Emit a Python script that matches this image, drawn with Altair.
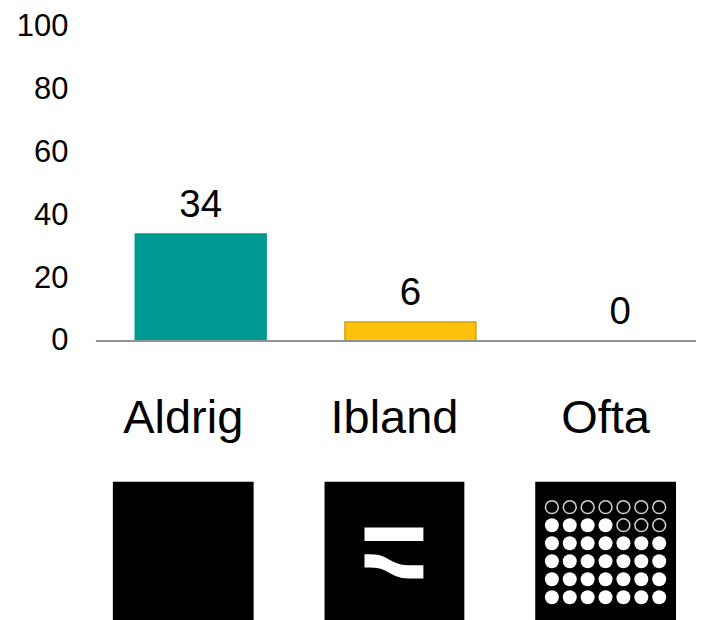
import altair as alt
import pandas as pd

FONT = "Liberation Sans"

# Bar chart values
categories = ["Aldrig", "Ibland", "Ofta"]
values = [34, 6, 0]
bar_fills = ["#009A93", "#FFC10B", "#FFFFFF"]
bar_strokes = ["#009A93", "#CFA00E", "#FFFFFF"]
y_ticks = [0, 20, 40, 60, 80, 100]

# Dot-grid icon: 7 columns, 6 rows; open circles at these cells
dot_cols = [1, 2, 3, 4, 5, 6, 7]
dot_rows = [1, 2, 3, 4, 5, 6]
open_cells = [(c, 1) for c in dot_cols] + [(5, 2), (6, 2), (7, 2)]

# Wave icon, in the icon's own 140 x 138 units
flat_x = [40, 99]
flat_top = [45.5]
flat_bottom = [58.8]
wave_x = [40, 50, 60, 70, 80, 90, 99]
wave_top = [72, 72.3, 74.7, 80, 82.7, 83, 83]
wave_bottom = [85.3, 85.6, 88, 93.3, 96, 96.3, 96.3]

bars = pd.DataFrame({"cat": categories, "v": values, "fill": bar_fills, "line": bar_strokes})

x_bar = alt.X(
    "cat:N", axis=None, sort=categories,
    scale=alt.Scale(domain=categories, range=[0, 630], paddingInner=0.376, paddingOuter=0.188),
)
y_bar = alt.Y(
    "v:Q",
    scale=alt.Scale(domain=[0, 100], nice=False),
    axis=alt.Axis(
        values=y_ticks, title=None, grid=False, domain=False, ticks=False,
        labelFont=FONT, labelFontSize=31, labelColor="#000000", labelPadding=28,
    ),
)

bar_marks = alt.Chart(bars).mark_bar(strokeWidth=1.5).encode(
    x=x_bar, y=y_bar,
    fill=alt.Fill("fill:N", scale=None),
    stroke=alt.Stroke("line:N", scale=None),
)
bar_labels = alt.Chart(bars).mark_text(
    font=FONT, fontSize=38.5, color="#000000", baseline="alphabetic", dy=-17
).encode(x=x_bar, y=y_bar, text="v:Q")
baseline = alt.Chart(bars.head(1)).mark_rule(color="#8C9296", strokeWidth=2).encode(
    x=alt.value(0), x2=alt.value(601), y=alt.value(315)
)
top = alt.layer(bar_marks, baseline, bar_labels).properties(width=601, height=315)


def icon_title(text):
    return alt.Title(text, font=FONT, fontSize=47, fontWeight="normal", color="#000000",
                     anchor="middle", offset=39)


px = alt.Scale(domain=[0, 140], nice=False)
py = alt.Scale(domain=[138, 0], nice=False)
black = alt.ViewBackground(fill="#000000", stroke=None)

# Icon 1: plain black
empty_icon = alt.Chart(pd.DataFrame({"x": [0], "x2": [140], "y": [0], "y2": [138]})).mark_rect(color="#000000").encode(
    x=alt.X("x:Q", scale=px, axis=None), x2="x2:Q",
    y=alt.Y("y:Q", scale=py, axis=None), y2="y2:Q",
).properties(width=141, height=139, title=icon_title(categories[0]))

# Icon 2: flat bar + wave
flat_df = pd.DataFrame({"x": [flat_x[0]], "x2": [flat_x[1]], "y": flat_top, "y2": flat_bottom})
flat = alt.Chart(flat_df).mark_rect(color="#FFFFFF").encode(
    x=alt.X("x:Q", scale=px, axis=None), x2="x2:Q",
    y=alt.Y("y:Q", scale=py, axis=None), y2="y2:Q",
)
wave_df = pd.DataFrame({"x": wave_x, "y": wave_top, "y2": wave_bottom})
wave = alt.Chart(wave_df).mark_area(color="#FFFFFF", interpolate="monotone").encode(
    x=alt.X("x:Q", scale=px, axis=None),
    y=alt.Y("y:Q", scale=py, axis=None), y2="y2:Q",
)
wave_icon = alt.layer(flat, wave).properties(
    width=140, height=139, title=icon_title(categories[1]), view=black
)

# Icon 3: dot grid
dots = pd.DataFrame([
    {"c": c, "r": r, "open": (c, r) in open_cells} for r in dot_rows for c in dot_cols
])
gx = alt.Scale(domain=[0.07, 7.94], nice=False)
gy = alt.Scale(domain=[7.29, -0.41], nice=False)
filled = alt.Chart(dots[~dots["open"]]).mark_circle(color="#FFFFFF", size=195, opacity=1).encode(
    x=alt.X("c:Q", scale=gx, axis=None), y=alt.Y("r:Q", scale=gy, axis=None),
)
rings = alt.Chart(dots[dots["open"]]).mark_point(
    shape="circle", filled=False, color="#D0D0D0", size=165, strokeWidth=1.5, opacity=1
).encode(
    x=alt.X("c:Q", scale=gx, axis=None), y=alt.Y("r:Q", scale=gy, axis=None),
)
dot_icon = alt.layer(filled, rings).properties(
    width=141, height=139, title=icon_title(categories[2]), view=black
)

spacer = alt.Chart(pd.DataFrame({"a": [0]})).mark_point(opacity=0).properties(width=17, height=10)

icons = alt.hconcat(empty_icon, wave_icon, dot_icon, spacing=71)
bottom = alt.hconcat(spacer, icons, spacing=0)

chart = alt.vconcat(top, bottom, spacing=39).properties(
    padding={"left": 8, "top": 2, "right": 0, "bottom": 0},
    background="#FFFFFF",
).configure_view(stroke=None)

chart.save("out.html", embed_options={"renderer": "svg", "actions": False})
